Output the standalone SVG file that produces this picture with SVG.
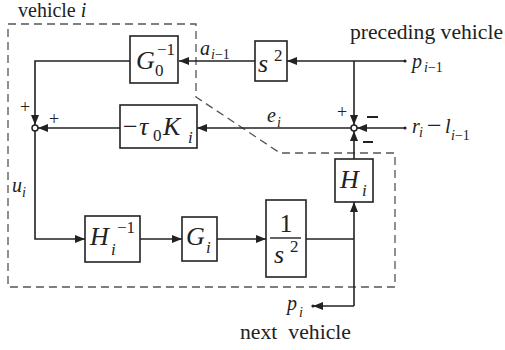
<svg xmlns="http://www.w3.org/2000/svg" width="505" height="350" viewBox="0 0 505 350">
<style>
  .box{fill:#fff;stroke:#222;stroke-width:1.6}
  .wire{fill:none;stroke:#222;stroke-width:1.6}
  .sum{fill:#fff;stroke:#222;stroke-width:1.5}
  .dash{fill:none;stroke:#555;stroke-width:1.3;stroke-dasharray:8 5}
  text{fill:#222;font-family:'Liberation Serif','DejaVu Serif',serif}
  .m{font-style:italic;font-size:26px}
  .n{font-size:26px}
  .s{font-size:17px}
  .si{font-size:17px;font-style:italic}
  .l{font-style:italic;font-size:20px}
  .ls{font-size:14px}
  .lsi{font-size:14px;font-style:italic}
  .t{font-size:20px}
  .pm{font-size:18px}
</style>
<defs>
  <marker id="arr" viewBox="0 0 10 8" refX="10" refY="4" markerWidth="10" markerHeight="8" markerUnits="userSpaceOnUse" orient="auto">
    <path d="M0,0 L10,4 L0,8 z" fill="#222"/>
  </marker>
</defs>
<g>
<path class="dash" d="M8,24 H196 V97 L280,153 H395 V287 H8 Z"/>
<text class="t" x="18" y="17" font-size="19">vehicle <tspan font-style="italic">i</tspan></text>
<text class="t" x="350" y="39" textLength="153" lengthAdjust="spacingAndGlyphs">preceding vehicle</text>
<text class="t" x="240" y="339" textLength="111" lengthAdjust="spacingAndGlyphs" xml:space="preserve">next  vehicle</text>

<g id="connectors">
  <path class="wire" d="M405,61 H287" marker-end="url(#arr)"/>
  <path class="wire" d="M354,61 V125" marker-end="url(#arr)"/>
  <path class="wire" d="M255,61 H179" marker-end="url(#arr)"/>
  <path class="wire" d="M130,61 H35 V125" marker-end="url(#arr)"/>
  <path class="wire" d="M405,128 H357" marker-end="url(#arr)"/>
  <path class="wire" d="M351,128 H197" marker-end="url(#arr)"/>
  <path class="wire" d="M120,128 H38" marker-end="url(#arr)"/>
  <path class="wire" d="M35,131 V239 H85" marker-end="url(#arr)"/>
  <path class="wire" d="M140,239 H182" marker-end="url(#arr)"/>
  <path class="wire" d="M217,239 H266" marker-end="url(#arr)"/>
  <path class="wire" d="M306,239 H354"/>
  <path class="wire" d="M354,306 V202" marker-end="url(#arr)"/>
  <path class="wire" d="M354,159 V131" marker-end="url(#arr)"/>
  <path class="wire" d="M354,306 H313" marker-end="url(#arr)"/>
  <circle cx="405" cy="61" r="1.6" fill="#222"/>
  <circle cx="405" cy="128" r="1.6" fill="#222"/>
  <circle cx="313" cy="306" r="1.6" fill="#222"/>
</g>

<g id="sum-left">
  <circle class="sum" cx="35" cy="128" r="3"/>
  <text class="pm" x="20" y="113">+</text>
  <text class="pm" x="49" y="125">+</text>
</g>
<g id="sum-right">
  <circle class="sum" cx="354" cy="128" r="3"/>
  <text class="pm" x="337" y="118">+</text>
  <line x1="367" y1="117" x2="378" y2="117" stroke="#222" stroke-width="2"/>
  <line x1="363" y1="142" x2="373" y2="142" stroke="#222" stroke-width="2"/>
</g>

<g id="G0inv">
  <rect class="box" x="130" y="36" width="48" height="47"/>
  <text class="m" x="136" y="69">G</text>
  <text class="s" x="155" y="76">0</text>
  <text class="s" x="157" y="55">−1</text>
</g>
<g id="s2">
  <rect class="box" x="255" y="41" width="32" height="40"/>
  <text class="m" x="258" y="72" font-size="28">s</text>
  <text class="s" x="274" y="61">2</text>
</g>
<g id="tauK">
  <rect class="box" x="120" y="105" width="77" height="43"/>
  <text class="n" x="123" y="135">−</text>
  <text class="m" x="139" y="135">τ</text>
  <text class="s" x="153" y="141">0</text>
  <text class="m" x="163" y="135">K</text>
  <text class="si" x="188" y="143">i</text>
</g>
<g id="Hi">
  <rect class="box" x="335" y="159" width="38" height="43"/>
  <text class="m" x="340" y="188">H</text>
  <text class="si" x="362" y="196">i</text>
</g>
<g id="Hinv">
  <rect class="box" x="85" y="216" width="55" height="46"/>
  <text class="m" x="90" y="245">H</text>
  <text class="si" x="111" y="255">i</text>
  <text class="s" x="117" y="233">−1</text>
</g>
<g id="Gi">
  <rect class="box" x="182" y="217" width="35" height="44"/>
  <text class="m" x="186" y="245">G</text>
  <text class="si" x="206" y="253">i</text>
</g>
<g id="inv-s2">
  <rect class="box" x="266" y="200" width="40" height="77"/>
  <text class="n" x="286" y="232" text-anchor="middle">1</text>
  <line x1="270" y1="238" x2="301" y2="238" stroke="#222" stroke-width="1.4"/>
  <text class="m" x="274" y="263">s</text>
  <text class="s" x="290" y="252">2</text>
</g>

<g id="labels">
  <text class="l" x="200" y="55">a</text>
  <text x="211" y="59"><tspan class="lsi">i</tspan><tspan class="ls">−1</tspan></text>
  <text class="l" x="412" y="68">p</text>
  <text x="424" y="72"><tspan class="lsi">i</tspan><tspan class="ls">−1</tspan></text>
  <text class="l" x="267" y="122">e</text>
  <text class="lsi" x="277" y="127">i</text>
  <text class="l" x="412" y="133">r</text>
  <text class="lsi" x="419" y="137">i</text>
  <text class="n" x="427" y="134" font-size="20">−</text>
  <text class="l" x="445" y="133">l</text>
  <text x="451" y="140"><tspan class="lsi">i</tspan><tspan class="ls">−1</tspan></text>
  <text class="l" x="12" y="192">u</text>
  <text class="lsi" x="22" y="197">i</text>
  <text class="l" x="287" y="310">p</text>
  <text class="lsi" x="299" y="317">i</text>
</g>
</g>
</svg>
